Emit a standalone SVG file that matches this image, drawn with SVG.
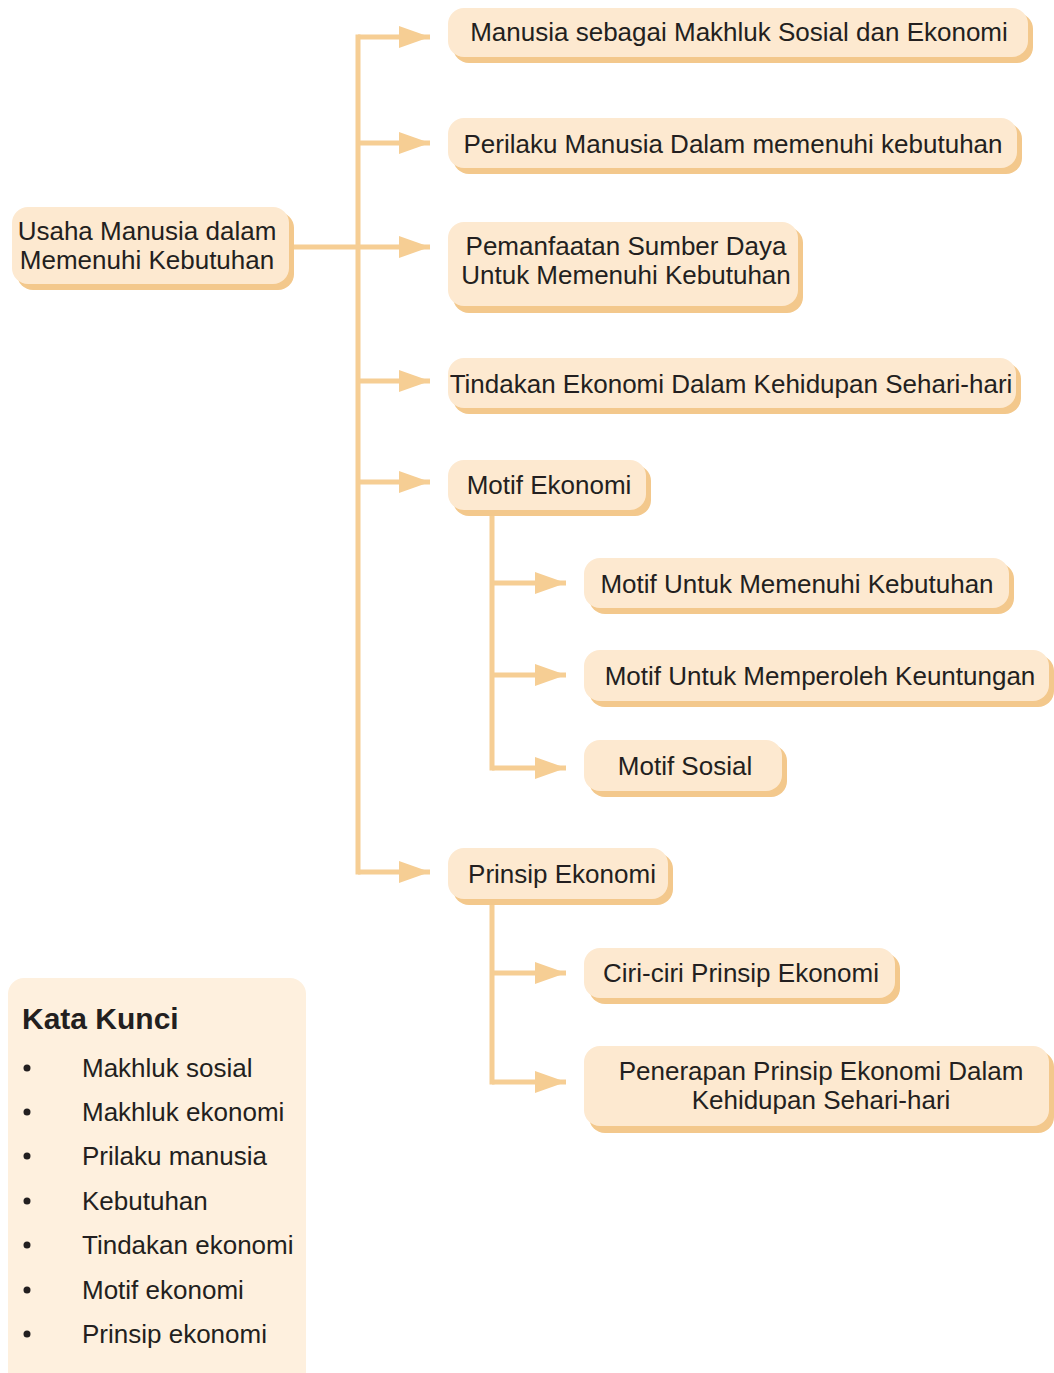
<svg xmlns="http://www.w3.org/2000/svg" width="1054" height="1373" viewBox="0 0 1054 1373">
<defs>
<style>
.sh{fill:#F3C88C}
.bx{fill:#FDE9D0}
.t{font-family:"Liberation Sans",Arial,sans-serif;font-size:26px;fill:#231F20}
.c{text-anchor:middle}
.ln{fill:none;stroke:#F6CE94;stroke-width:5}
.kw{font-family:"Liberation Sans",Arial,sans-serif;font-size:26px;fill:#231F20}
</style>
<marker id="ah" markerUnits="userSpaceOnUse" markerWidth="32" markerHeight="24" refX="31" refY="12" orient="auto">
<path d="M0,1 L31,12 L0,23 Z" fill="#F6CE94"/>
</marker>
</defs>
<rect width="1054" height="1373" fill="#FFFFFF"/>

<g id="connectors">
<path class="ln" d="M358,37 V872" stroke-linecap="square"/>
<path class="ln" d="M290,247 H430" marker-end="url(#ah)"/>
<path class="ln" d="M358,37 H430" marker-end="url(#ah)"/>
<path class="ln" d="M358,143 H430" marker-end="url(#ah)"/>
<path class="ln" d="M358,381 H430" marker-end="url(#ah)"/>
<path class="ln" d="M358,482 H430" marker-end="url(#ah)"/>
<path class="ln" d="M358,872 H430" marker-end="url(#ah)"/>
<path class="ln" d="M492,515 V768" stroke-linecap="square"/>
<path class="ln" d="M492,583 H566" marker-end="url(#ah)"/>
<path class="ln" d="M492,675 H566" marker-end="url(#ah)"/>
<path class="ln" d="M492,768 H566" marker-end="url(#ah)"/>
<path class="ln" d="M492,904 V1082" stroke-linecap="square"/>
<path class="ln" d="M492,973 H566" marker-end="url(#ah)"/>
<path class="ln" d="M492,1082 H566" marker-end="url(#ah)"/>
</g>

<g id="n-root">
<rect class="sh" x="17" y="212" width="277" height="78" rx="16"/>
<rect class="bx" x="12" y="207" width="277" height="77" rx="16"/>
<text class="t c" x="147" y="240">Usaha Manusia dalam</text>
<text class="t c" x="147" y="269">Memenuhi Kebutuhan</text>
</g>

<g id="n1">
<rect class="sh" x="453" y="13" width="580" height="50" rx="16"/>
<rect class="bx" x="448" y="8" width="580" height="49" rx="16"/>
<text class="t c" x="739" y="41">Manusia sebagai Makhluk Sosial dan Ekonomi</text>
</g>

<g id="n2">
<rect class="sh" x="453" y="123" width="569" height="51" rx="16"/>
<rect class="bx" x="448" y="118" width="569" height="50" rx="16"/>
<text class="t c" x="733" y="153">Perilaku Manusia Dalam memenuhi kebutuhan</text>
</g>

<g id="n3">
<rect class="sh" x="453" y="227" width="350" height="86" rx="16"/>
<rect class="bx" x="448" y="222" width="350" height="84" rx="16"/>
<text class="t c" x="626" y="255">Pemanfaatan Sumber Daya</text>
<text class="t c" x="626" y="284">Untuk Memenuhi Kebutuhan</text>
</g>

<g id="n4">
<rect class="sh" x="453" y="363" width="568" height="51" rx="16"/>
<rect class="bx" x="448" y="358" width="568" height="50" rx="16"/>
<text class="t c" x="731" y="393">Tindakan Ekonomi Dalam Kehidupan Sehari-hari</text>
</g>

<g id="n5">
<rect class="sh" x="453" y="465" width="198" height="51" rx="16"/>
<rect class="bx" x="448" y="460" width="198" height="50" rx="16"/>
<text class="t c" x="549" y="494">Motif Ekonomi</text>
</g>

<g id="n6">
<rect class="sh" x="589" y="563" width="425" height="51" rx="16"/>
<rect class="bx" x="584" y="558" width="425" height="50" rx="16"/>
<text class="t c" x="797" y="593">Motif Untuk Memenuhi Kebutuhan</text>
</g>

<g id="n7">
<rect class="sh" x="589" y="655" width="465" height="52" rx="16"/>
<rect class="bx" x="584" y="650" width="465" height="51" rx="16"/>
<text class="t c" x="820" y="685">Motif Untuk Memperoleh Keuntungan</text>
</g>

<g id="n8">
<rect class="sh" x="589" y="745" width="198" height="52" rx="16"/>
<rect class="bx" x="584" y="740" width="198" height="51" rx="16"/>
<text class="t c" x="685" y="775">Motif Sosial</text>
</g>

<g id="n9">
<rect class="sh" x="453" y="853" width="220" height="52" rx="16"/>
<rect class="bx" x="448" y="848" width="220" height="51" rx="16"/>
<text class="t c" x="562" y="883">Prinsip Ekonomi</text>
</g>

<g id="n10">
<rect class="sh" x="589" y="953" width="311" height="51" rx="16"/>
<rect class="bx" x="584" y="948" width="311" height="50" rx="16"/>
<text class="t c" x="741" y="982">Ciri-ciri Prinsip Ekonomi</text>
</g>

<g id="n11">
<rect class="sh" x="589" y="1051" width="465" height="82" rx="16"/>
<rect class="bx" x="584" y="1046" width="465" height="80" rx="16"/>
<text class="t c" x="821" y="1080">Penerapan Prinsip Ekonomi Dalam</text>
<text class="t c" x="821" y="1109">Kehidupan Sehari-hari</text>
</g>

<g id="kata-kunci">
<rect x="8" y="978" width="298" height="420" rx="16" fill="#FEF0DE"/>
<text x="22" y="1029" font-family="Liberation Sans,Arial,sans-serif" font-size="30" font-weight="bold" fill="#231F20">Kata Kunci</text>
<g fill="#231F20">
<circle cx="27" cy="1068" r="3.5"/>
<circle cx="27" cy="1112" r="3.5"/>
<circle cx="27" cy="1156" r="3.5"/>
<circle cx="27" cy="1201" r="3.5"/>
<circle cx="27" cy="1245" r="3.5"/>
<circle cx="27" cy="1290" r="3.5"/>
<circle cx="27" cy="1334" r="3.5"/>
</g>
<text class="kw" x="82" y="1077">Makhluk sosial</text>
<text class="kw" x="82" y="1121">Makhluk ekonomi</text>
<text class="kw" x="82" y="1165">Prilaku manusia</text>
<text class="kw" x="82" y="1210">Kebutuhan</text>
<text class="kw" x="82" y="1254">Tindakan ekonomi</text>
<text class="kw" x="82" y="1299">Motif ekonomi</text>
<text class="kw" x="82" y="1343">Prinsip ekonomi</text>
</g>
</svg>
